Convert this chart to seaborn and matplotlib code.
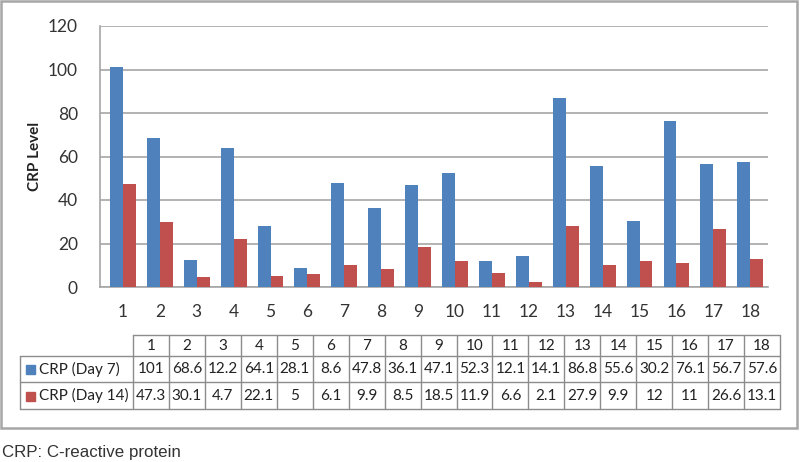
import matplotlib
matplotlib.use('Agg')
import matplotlib.pyplot as plt
from matplotlib.patches import Rectangle
import seaborn as sns
import pandas as pd

patients = [str(i) for i in range(1, 19)]
crp_day7 = [101, 68.6, 12.2, 64.1, 28.1, 8.6, 47.8, 36.1, 47.1, 52.3, 12.1, 14.1, 86.8, 55.6, 30.2, 76.1, 56.7, 57.6]
crp_day14 = [47.3, 30.1, 4.7, 22.1, 5, 6.1, 9.9, 8.5, 18.5, 11.9, 6.6, 2.1, 27.9, 9.9, 12, 11, 26.6, 13.1]
series_names = ["CRP (Day 7)", "CRP (Day 14)"]
series_colors = ["#4F81BD", "#C0504D"]
y_ticks = [0, 20, 40, 60, 80, 100, 120]
footnote = "CRP: C-reactive protein"

sns.set_theme(style="white")
plt.rcParams['font.family'] = ['Lato', 'DejaVu Sans']

W, H = 800, 462
fig = plt.figure(figsize=(W / 100, H / 100), dpi=100)


def px_axes(x0, y0, x1, y1):
    # pixel box (top-left origin) -> figure fraction
    return [x0 / W, (H - y1) / H, (x1 - x0) / W, (y1 - y0) / H]


# long-form data for seaborn
df = pd.DataFrame({
    "patient": patients * 2,
    "crp": crp_day7 + crp_day14,
    "series": [series_names[0]] * len(patients) + [series_names[1]] * len(patients),
})

ax = fig.add_axes(px_axes(100, 26, 768, 287))
sns.barplot(data=df, x="patient", y="crp", hue="series", order=patients,
            hue_order=series_names, palette=series_colors, width=0.7,
            saturation=1, linewidth=0, ax=ax, legend=False, zorder=3)

ax.set_ylim(0, 120)
ax.set_xlim(-0.62, 17.48)
ax.set_yticks(y_ticks)
ax.yaxis.grid(True, color="#A6A6A6", linewidth=1.2, zorder=0)
ax.set_axisbelow(True)
for side in ["top", "right"]:
    ax.spines[side].set_visible(False)
for side in ["left", "bottom"]:
    ax.spines[side].set_color("#A6A6A6")
    ax.spines[side].set_linewidth(1.2)
ax.tick_params(axis="y", labelsize=12.5, colors="#333333", length=0, pad=16)
ax.tick_params(axis="x", labelsize=12.5, colors="#333333", length=0, pad=12)
ax.set_xlabel("")
ax.set_ylabel("CRP Level", fontsize=11, fontweight="bold", color="#222222", labelpad=4)

# data table underneath
tx0, tx1 = 20, 780
col_w = (tx1 - 133) / len(patients)
row_y = [335, 356, 382, 409]
tab = fig.add_axes(px_axes(0, 0, W, H))
tab.set_xlim(0, W)
tab.set_ylim(H, 0)
tab.axis("off")
line_kw = dict(color="#8C8C8C", linewidth=1.0)

# horizontal lines
tab.plot([133, tx1], [row_y[0], row_y[0]], **line_kw)
for y in row_y[1:]:
    tab.plot([tx0, tx1], [y, y], **line_kw)
# vertical lines
tab.plot([tx0, tx0], [row_y[1], row_y[3]], **line_kw)
for i in range(len(patients) + 1):
    x = 133 + i * col_w
    tab.plot([x, x], [row_y[0], row_y[3]], **line_kw)

cell_fs = 11
for i, p in enumerate(patients):
    cx = 133 + (i + 0.5) * col_w
    tab.text(cx, (row_y[0] + row_y[1]) / 2, p, ha="center", va="center", fontsize=cell_fs, color="#222222")
    for r, vals in enumerate([crp_day7, crp_day14]):
        tab.text(cx, (row_y[r + 1] + row_y[r + 2]) / 2, f"{vals[i]:g}", ha="center", va="center",
                 fontsize=cell_fs, color="#222222")

for r, (name, col) in enumerate(zip(series_names, series_colors)):
    cy = (row_y[r + 1] + row_y[r + 2]) / 2
    tab.add_patch(Rectangle((26, cy - 4), 9, 9, color=col))
    tab.text(39, cy, name, ha="left", va="center", fontsize=cell_fs, color="#222222")

# outer chart frame
tab.add_patch(Rectangle((1, 1), 796, 427, fill=False, edgecolor="#A6A6A6", linewidth=1.8))

fig.text(2 / W, (H - 452) / H, footnote, ha="left", va="center", fontsize=12.2,
         family=["Liberation Sans", "DejaVu Sans"], color="#333333")

fig.savefig("out.png", dpi=100)
